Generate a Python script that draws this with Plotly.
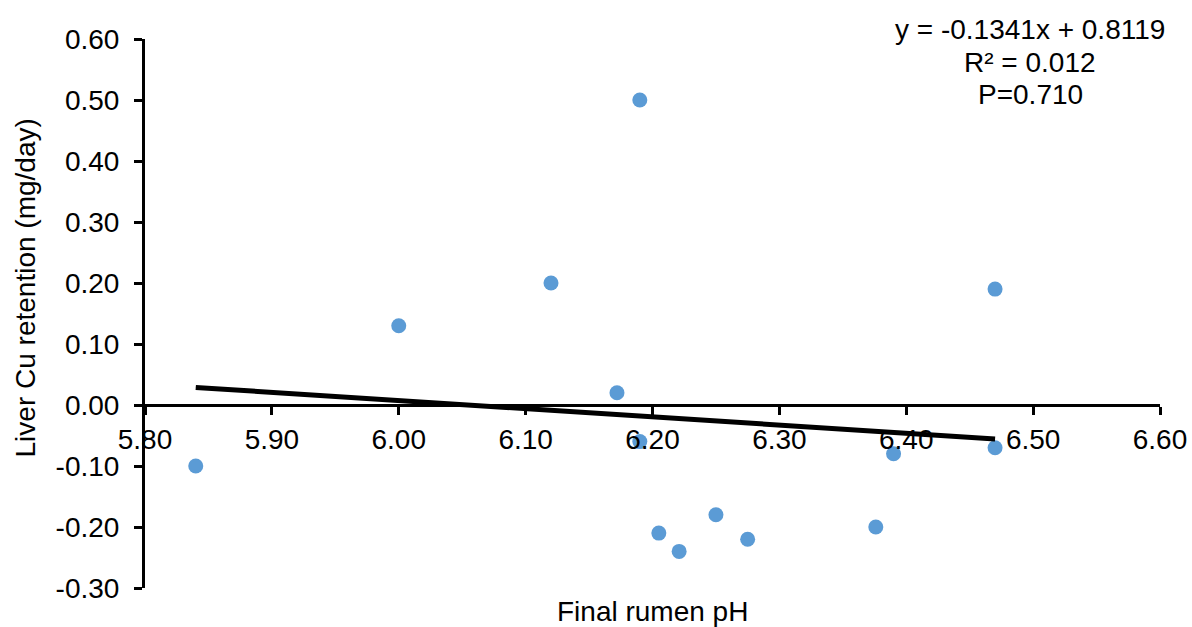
import numpy as np
import plotly.graph_objects as go

# Final rumen pH vs liver Cu retention
ph = [5.84, 6.00, 6.12, 6.172, 6.19, 6.19, 6.205, 6.221, 6.25, 6.275, 6.376, 6.39, 6.47, 6.47]
cu = [-0.10, 0.13, 0.20, 0.02, 0.50, -0.06, -0.21, -0.24, -0.18, -0.22, -0.20, -0.08, 0.19, -0.07]

# Linear fit as reported
slope, intercept = -0.1341, 0.8119
r2_text = "R² = 0.012"
p_text = "P=0.710"

x_ticks = [5.80, 5.90, 6.00, 6.10, 6.20, 6.30, 6.40, 6.50, 6.60]
y_ticks = [-0.30, -0.20, -0.10, 0.00, 0.10, 0.20, 0.30, 0.40, 0.50, 0.60]

x_range = [5.80, 6.60]
y_range = [-0.30, 0.60]

FONT = "Liberation Sans, Arial, sans-serif"
FS = 28


def fmt(v):
    # plain hyphen for negatives
    return f"{v:.2f}".replace("\u2212", "-")


fit_x = np.array([min(ph), max(ph)])
fit_y = slope * fit_x + intercept

fig = go.Figure()
fig.add_trace(go.Scatter(
    x=ph, y=cu, mode="markers",
    marker=dict(color="#5B9BD5", size=15, line=dict(width=0)),
    showlegend=False,
))
fig.add_trace(go.Scatter(
    x=fit_x, y=fit_y, mode="lines",
    line=dict(color="black", width=5),
    showlegend=False,
))

# x axis sits on y = 0
zero_pos = (0 - y_range[0]) / (y_range[1] - y_range[0])

fig.update_layout(
    width=1192, height=627,
    margin=dict(l=145, r=32, t=39, b=39),
    paper_bgcolor="white", plot_bgcolor="white",
    font=dict(family=FONT, size=FS, color="black"),
    xaxis=dict(
        range=x_range, tickmode="array", tickvals=x_ticks,
        ticktext=[fmt(v) for v in x_ticks],
        showgrid=False, zeroline=False,
        showline=True, linecolor="black", linewidth=3,
        ticks="outside", ticklen=8, tickwidth=3, tickcolor="black",
        anchor="free", position=zero_pos,
        tickfont=dict(family=FONT, size=FS),
        automargin=False,
    ),
    yaxis=dict(
        range=y_range, tickmode="array", tickvals=y_ticks,
        ticktext=[fmt(v) for v in y_ticks],
        showgrid=False, zeroline=False,
        showline=True, linecolor="black", linewidth=3,
        ticks="outside", ticklen=8, tickwidth=3, tickcolor="black",
        ticklabelstandoff=9,
        tickfont=dict(family=FONT, size=FS),
        domain=[0, 1],
        automargin=False,
    ),
)

eq_text = f"y = {slope:.4f}x + {intercept:.4f}"
for txt, yp in [(eq_text, 1.018), (r2_text, 0.958), (p_text, 0.898)]:
    fig.add_annotation(
        x=0.872, y=yp, xref="paper", yref="paper", text=txt,
        showarrow=False, xanchor="center", yanchor="middle",
        font=dict(family=FONT, size=FS),
    )

fig.add_annotation(
    x=0.5, y=-0.0437, xref="paper", yref="paper", text="Final rumen pH",
    showarrow=False, xanchor="center", yanchor="middle",
    font=dict(family=FONT, size=FS),
)
fig.add_annotation(
    x=-0.118, y=0.546, xref="paper", yref="paper",
    text="Liver Cu retention (mg/day)", textangle=-90,
    showarrow=False, xanchor="center", yanchor="middle",
    font=dict(family=FONT, size=FS),
)

fig.write_html("out.html")
